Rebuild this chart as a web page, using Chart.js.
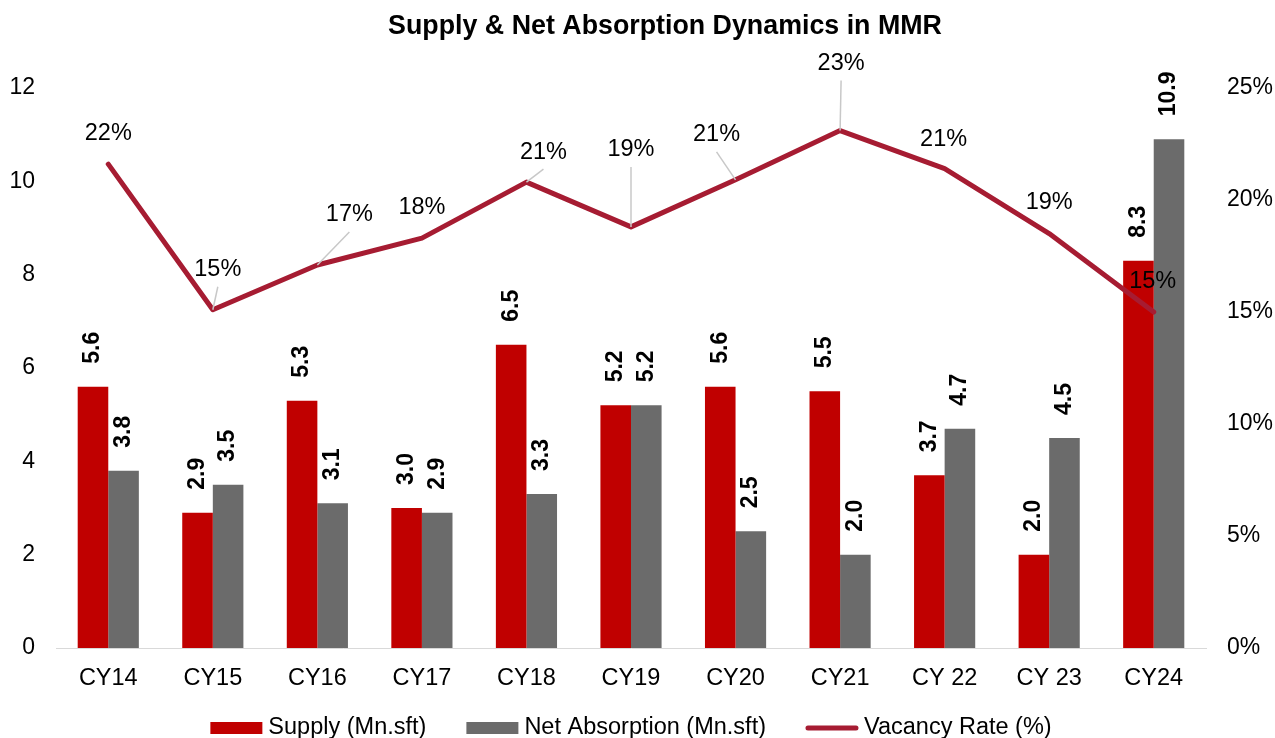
<!DOCTYPE html>
<html>
<head>
<meta charset="utf-8">
<title>Supply & Net Absorption Dynamics in MMR</title>
<script src="https://cdn.jsdelivr.net/npm/chart.js@4.4.1/dist/chart.umd.min.js"></script>
<style>
    html, body { margin: 0; padding: 0; background: #fff; }
    #wrap { width: 1275px; height: 738px; }
</style>
</head>
<body>
<div id="wrap"><canvas id="chart" width="1275" height="738"></canvas></div>
<script>
const categories = ['CY14', 'CY15', 'CY16', 'CY17', 'CY18', 'CY19', 'CY20', 'CY21', 'CY 22', 'CY 23', 'CY24'];
const supply = [5.6, 2.9, 5.3, 3.0, 6.5, 5.2, 5.6, 5.5, 3.7, 2.0, 8.3];
const netAbsorption = [3.8, 3.5, 3.1, 2.9, 3.3, 5.2, 2.5, 2.0, 4.7, 4.5, 10.9];
const vacancyRate = [21.6, 15.1, 17.1, 18.3, 20.8, 18.8, 20.9, 23.1, 21.4, 18.5, 15.0];

const seriesNames = ['Supply (Mn.sft)', 'Net Absorption (Mn.sft)', 'Vacancy Rate (%)'];
const chartTitle = 'Supply & Net Absorption Dynamics in MMR';

// where each vacancy label sits relative to its point: [dx, dy, leader line?]
const vacancyLabelPos = [
    [0, -31, false], [5, -40, true], [32, -50, true], [0, -31, false],
    [17, -30, true], [0, -77, true], [-19, -45, true], [1, -67, true],
    [-1, -29, false], [0, -31, false], [-1, -30, false]
];

const FONT = '"Liberation Sans", Arial, sans-serif';
const RED = '#C00000';
const GREY = '#6B6B6B';
const LINE = '#A61C32';

const labelPlugin = {
    id: 'valueLabels',
    afterDatasetsDraw(chart) {
        const ctx = chart.ctx;
        ctx.save();

        // bar values, rotated
        ctx.font = `bold 23px ${FONT}`;
        ctx.fillStyle = '#000';
        ctx.textAlign = 'left';
        ctx.textBaseline = 'middle';
        [0, 1].forEach(di => {
            const values = chart.data.datasets[di].data;
            chart.getDatasetMeta(di).data.forEach((bar, i) => {
                ctx.save();
                ctx.translate(bar.x, bar.y - 23);
                ctx.rotate(-Math.PI / 2);
                ctx.fillText(values[i].toFixed(1), 0, 0);
                ctx.restore();
            });
        });

        // vacancy labels with leader lines
        ctx.font = `23.5px ${FONT}`;
        ctx.textAlign = 'center';
        const values = chart.data.datasets[2].data;
        chart.getDatasetMeta(2).data.forEach((pt, i) => {
            const [dx, dy, leader] = vacancyLabelPos[i];
            const lx = pt.x + dx;
            const ly = pt.y + dy;
            if (leader) {
                ctx.strokeStyle = '#c8c8c8';
                ctx.lineWidth = 1.5;
                ctx.beginPath();
                ctx.moveTo(pt.x, pt.y);
                ctx.lineTo(lx, ly + 17);
                ctx.stroke();
            }
            ctx.fillStyle = '#000';
            ctx.fillText(Math.round(values[i]) + '%', lx, ly);
        });
        ctx.restore();
    },
    afterDraw(chart) {
        const ctx = chart.ctx;
        const area = chart.chartArea;
        ctx.save();

        // title
        ctx.font = `bold 26.8px ${FONT}`;
        ctx.fillStyle = '#000';
        ctx.textAlign = 'center';
        ctx.textBaseline = 'middle';
        ctx.fillText(chartTitle, 665, 27);

        // legend
        ctx.font = `23.5px ${FONT}`;
        ctx.textAlign = 'left';
        const boxW = 52, gap = 6, spacing = 40, y = 728;
        const widths = chart.data.datasets.map(ds => ctx.measureText(ds.label).width);
        const total = widths.reduce((a, b) => a + b, 0) + 3 * (boxW + gap) + 2 * spacing;
        let x = (area.left + area.right) / 2 - total / 2;
        chart.data.datasets.forEach((ds, i) => {
            if (ds.type === 'line') {
                ctx.strokeStyle = ds.borderColor;
                ctx.lineWidth = 5;
                ctx.lineCap = 'round';
                ctx.beginPath();
                ctx.moveTo(x + 2, y);
                ctx.lineTo(x + boxW - 2, y);
                ctx.stroke();
            } else {
                ctx.fillStyle = ds.backgroundColor;
                ctx.fillRect(x, y - 6, boxW, 12);
            }
            ctx.fillStyle = '#000';
            ctx.fillText(ds.label, x + boxW + gap, y);
            x += boxW + gap + widths[i] + spacing;
        });
        ctx.restore();
    }
};

new Chart(document.getElementById('chart'), {
    type: 'bar',
    data: {
        labels: categories,
        datasets: [
            {
                label: seriesNames[0],
                data: supply,
                backgroundColor: RED,
                yAxisID: 'y',
                order: 1,
                categoryPercentage: 0.585,
                barPercentage: 1
            },
            {
                label: seriesNames[1],
                data: netAbsorption,
                backgroundColor: GREY,
                yAxisID: 'y',
                order: 1,
                categoryPercentage: 0.585,
                barPercentage: 1
            },
            {
                type: 'line',
                label: seriesNames[2],
                data: vacancyRate,
                borderColor: LINE,
                backgroundColor: LINE,
                borderWidth: 5,
                borderCapStyle: 'round',
                borderJoinStyle: 'round',
                pointRadius: 0,
                tension: 0,
                yAxisID: 'y1',
                order: 0
            }
        ]
    },
    options: {
        responsive: false,
        devicePixelRatio: 1,
        animation: false,
        events: [],
        layout: { padding: { top: 88, bottom: 46, left: 0, right: 0 } },
        plugins: {
            legend: { display: false },
            title: { display: false },
            tooltip: { enabled: false }
        },
        scales: {
            x: {
                grid: { display: false, drawTicks: false },
                border: { display: true, color: '#d9d9d9', width: 1 },
                ticks: { color: '#000', font: { family: FONT, size: 23.5 }, padding: 16, maxRotation: 0 },
                afterFit: scale => { scale.height = 44; }
            },
            y: {
                position: 'left',
                min: 0,
                max: 12,
                ticks: { stepSize: 2, color: '#000', font: { family: FONT, size: 23 }, padding: 21 },
                grid: { display: false, drawTicks: false },
                border: { display: false },
                afterFit: scale => { scale.width = 56; }
            },
            y1: {
                position: 'right',
                min: 0,
                max: 25,
                ticks: { stepSize: 5, color: '#000', font: { family: FONT, size: 23 }, padding: 21, callback: v => v + '%' },
                grid: { display: false, drawTicks: false },
                border: { display: false },
                afterFit: scale => { scale.width = 69; }
            }
        }
    },
    plugins: [labelPlugin]
});
</script>
</body>
</html>
